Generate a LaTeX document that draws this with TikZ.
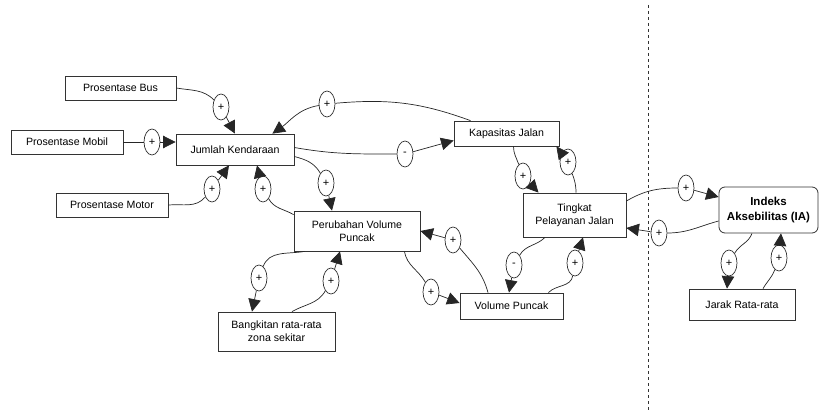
\documentclass[tikz,border=0pt]{standalone}
\usepackage{fontspec}
\setmainfont{Liberation Sans}
\usetikzlibrary{shapes.geometric,arrows.meta}
\def\tipl{12.5pt}
\def\tipw{12.5pt}

\tikzset{
  var/.style={draw=black!80, line width=0.8pt, fill=white, align=center, inner sep=2pt,
    font=\fontsize{10.6}{13}\selectfont},
  sgn/.style={ellipse, draw=black!80, line width=0.7pt, fill=white, inner sep=0pt,
    minimum width=16pt, minimum height=26pt, font=\fontsize{11}{11}\selectfont},
  lnk/.style={draw=black!85, line width=0.7pt},
  arr/.style={lnk, -{Triangle[length=\tipl,width=\tipw]}}
}

\begin{document}
\begin{tikzpicture}[x=1pt,y=-1pt]
\useasboundingbox (0,0) rectangle (820,412);

%boundary of the model (dashed)
\draw[black!80, line width=0.8pt, dash pattern=on 3pt off 3pt] (648,5) -- (648,412);

%the variables
\node[var, minimum width=111pt, minimum height=24pt] (bus) at (120.5,88) {Prosentase Bus};
\node[var, minimum width=112pt, minimum height=24pt] (mobil) at (67,142) {Prosentase Mobil};
\node[var, minimum width=118pt, minimum height=31pt] (jumlah) at (235,149.5) {Jumlah Kendaraan};
\node[var, minimum width=112pt, minimum height=24pt] (motor) at (112,205) {Prosentase Motor};
\node[var, minimum width=126pt, minimum height=40pt] (perubahan) at (357,231) {Perubahan Volume\\Puncak};
\node[var, minimum width=117pt, minimum height=39pt] (bangkitan) at (276.5,331.5) {Bangkitan rata-rata\\zona sekitar};
\node[var, minimum width=105pt, minimum height=25pt] (kapasitas) at (506.5,133.5) {Kapasitas Jalan};
\node[var, minimum width=103pt, minimum height=44pt] (tingkat) at (574.5,215) {Tingkat\\Pelayanan Jalan};
\node[var, minimum width=103pt, minimum height=26pt] (volume) at (511.5,306) {Volume Puncak};
\node[var, minimum width=99pt, minimum height=46pt, rounded corners=6pt,
  font=\fontsize{11.5}{15}\selectfont\bfseries] (indeks) at (768.5,210) {Indeks\\Aksebilitas (IA)};
\node[var, minimum width=106pt, minimum height=31pt] (jarak) at (742,304.5) {Jarak Rata-rata};

%the signs on the links
\foreach \n/\x/\y/\s in {s1/221/107/+, s2/152/142/+, s3/212/189/+, s4/263/189/+,
    s5/326/183/+, s6/327/104/+, s7/405/154/-, s8/523/176/+, s9/568/162/+,
    s10/514/265/-, s11/575/263/+, s12/453/240/+, s13/431/292/+, s14/259/278/+,
    s15/331/281/+, s16/686/188/+, s17/659/233/+, s18/729/263/+, s19/779/258/+}{
  \node[sgn] (\n) at (\x,\y) {\s};
}

%links into Jumlah Kendaraan
\draw[lnk] (bus.east) to[out=-10,in=135] (s1);
\draw[arr] (s1) -- (jumlah.north);
\draw[lnk] (mobil) -- (s2);
\draw[arr] (s2) -- (s2 -| jumlah.west);
\draw[lnk] (motor.east) to[out=5,in=-130] (s3);
\draw[arr] (s3) -- ([xshift=-6pt]jumlah.south);
\draw[lnk] ([yshift=-4pt]perubahan.north west) to[out=150,in=-60] (s4);
\draw[arr] (s4) -- ([xshift=22pt]jumlah.south);
\draw[lnk] ([yshift=-7pt]jumlah.east) to[out=-15,in=120] (s5);
\draw[arr] (s5) -- ([xshift=-25pt]perubahan.north);

%Kapasitas Jalan
\draw[lnk] ([xshift=-36pt]kapasitas.north) to[out=160,in=5] (s6);
\draw[arr] (s6) to[out=190,in=35] ([xshift=-22pt]jumlah.north east);
\draw[lnk] ([yshift=2pt]jumlah.east) to[out=-10,in=180] (s7);
\draw[arr] (s7) -- ([yshift=-7pt]kapasitas.west);
\draw[lnk] ([xshift=7pt]kapasitas.south) to[out=-90,in=110] (s8);
\draw[arr] (s8) -- ([xshift=-36pt]tingkat.north);
\draw[lnk] ([xshift=1.5pt]tingkat.north) to[out=90,in=-70] (s9);
\draw[arr] (s9) -- ([xshift=-3pt]kapasitas.south east);

%Tingkat Pelayanan Jalan and Volume Puncak
\draw[lnk] ([xshift=-29.5pt]tingkat.south) to[out=-135,in=60] (s10);
\draw[arr] (s10) -- ([xshift=-2.5pt]volume.north);
\draw[lnk] ([xshift=-15pt]volume.north east) to[out=45,in=-100] (s11);
\draw[arr] (s11) -- ([xshift=8.5pt]tingkat.south);

%Perubahan Volume Puncak
\draw[lnk] ([xshift=-23.5pt]volume.north) to[out=105,in=-50] (s12);
\draw[arr] (s12) -- (perubahan.east);
\draw[lnk] ([xshift=-16pt]perubahan.south east) to[out=-80,in=120] (s13);
\draw[arr] (s13) -- ([yshift=3pt]volume.west);
\draw[lnk] ([xshift=11pt]perubahan.south west) to[out=190,in=70] (s14);
\draw[arr] (s14) -- ([xshift=-24.5pt]bangkitan.north);
\draw[lnk] ([xshift=15.5pt]bangkitan.north) to[out=30,in=-120] (s15);
\draw[arr] (s15) -- ([xshift=-17pt]perubahan.south);

%Indeks Aksebilitas (IA)
\draw[lnk] ([yshift=14pt]tingkat.east) to[out=30,in=180] (s16);
\draw[arr] (s16) -- ([yshift=13pt]indeks.west);
\draw[lnk] ([yshift=-11pt]indeks.west) to[out=195,in=0] (s17);
\draw[arr] (s17) -- ([yshift=-13pt]tingkat.east);
\draw[lnk] ([xshift=-16.5pt]indeks.south) to[out=-110,in=60] (s18);
\draw[arr] (s18) -- ([xshift=-15pt]jarak.north);
\draw[lnk] ([xshift=21pt]jarak.north) to[out=60,in=-110] (s19);
\draw[arr] (s19) -- ([xshift=12.5pt]indeks.south);

\end{tikzpicture}
\end{document}
